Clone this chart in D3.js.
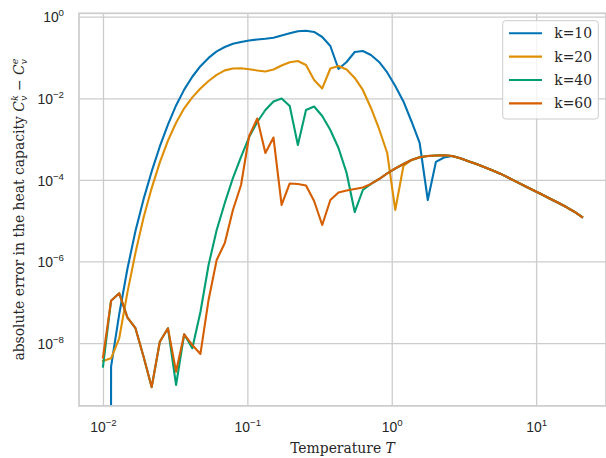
<!DOCTYPE html>
<html>
<head>
<meta charset="utf-8">
<script src="https://cdn.jsdelivr.net/npm/d3@7"></script>
<style>
    body { margin: 0; background: #fff; }
    svg { font-family: "DejaVu Serif", serif; }
    .grid-line { stroke: #cccccc; stroke-width: 1.3; }
    .tick text { fill: #262626; font-size: 13.9px; }
</style>
</head>
<body>
<svg></svg>
<script>
// temperatures (log grid) shared by all curves
const temperature = [0.01, 0.01138, 0.01296, 0.01475, 0.01679, 0.01911, 0.02175, 0.02476, 0.02819, 0.03208,
    0.03652, 0.04157, 0.04732, 0.05387, 0.06131, 0.06979, 0.07944, 0.09043, 0.1029, 0.1171,
    0.1333, 0.1517, 0.1727, 0.1966, 0.2238, 0.2548, 0.29, 0.3301, 0.3757, 0.4277,
    0.4869, 0.5542, 0.6308, 0.7181, 0.8174, 0.9304, 1.058, 1.205, 1.371, 1.561,
    1.777, 2.022, 2.302, 2.620, 2.983, 3.395, 3.865, 4.399, 5.008, 5.700,
    6.486, 7.384, 8.405, 9.566, 10.89, 12.40, 14.11, 16.06, 18.28, 20.81];

// absolute error |C_v^k - C_v^e| for each k
const errK10 = [0, 2.64e-9, 5.1e-8, 6.47e-7, 5.6e-6, 3.37e-5, 1.61e-4, 6.59e-4, 2.26e-3, 6.67e-3,
    1.63e-2, 3.37e-2, 6.12e-2, 9.77e-2, 1.41e-1, 1.81e-1, 2.17e-1, 2.4e-1, 2.61e-1, 2.76e-1,
    2.89e-1, 3.06e-1, 3.46e-1, 3.92e-1, 4.39e-1, 4.54e-1, 4.22e-1, 3.18e-1, 1.91e-1, 5.22e-2,
    7.76e-2, 1.36e-1, 1.44e-1, 1.15e-1, 7.76e-2, 4.29e-2, 2.0e-2, 8.36e-3, 2.7e-3, 8.02e-4,
    3.21e-5, 2.75e-4, 3.54e-4, 3.85e-4, 3.38e-4, 2.86e-4, 2.45e-4, 2.04e-4, 1.7e-4, 1.4e-4,
    1.11e-4, 8.79e-5, 6.97e-5, 5.56e-5, 4.44e-5, 3.5e-5, 2.79e-5, 2.19e-5, 1.68e-5, 1.23e-5];

const errK20 = [3.64e-9, 4.24e-9, 1.31e-8, 1.7e-7, 1.63e-6, 1.19e-5, 6.3e-5, 2.69e-4, 9.18e-4, 2.52e-3,
    5.69e-3, 1.05e-2, 1.74e-2, 2.65e-2, 3.75e-2, 4.83e-2, 5.37e-2, 5.43e-2, 5.16e-2, 4.8e-2,
    4.54e-2, 5.08e-2, 6.37e-2, 7.62e-2, 8.2e-2, 6.55e-2, 2.81e-2, 1.74e-2, 5.37e-2, 6.19e-2,
    5.08e-2, 3.15e-2, 1.6e-2, 5.78e-3, 1.77e-3, 4.56e-4, 1.83e-5, 2.19e-4, 3.08e-4, 3.58e-4,
    3.85e-4, 3.96e-4, 4.01e-4, 3.85e-4, 3.38e-4, 2.86e-4, 2.45e-4, 2.04e-4, 1.7e-4, 1.4e-4,
    1.11e-4, 8.79e-5, 6.97e-5, 5.56e-5, 4.44e-5, 3.5e-5, 2.79e-5, 2.19e-5, 1.68e-5, 1.23e-5];

const errK40 = [2.64e-9, 1.09e-7, 1.66e-7, 4.29e-8, 2.31e-8, 4.64e-9, 8.3e-10, 1.08e-8, 2.31e-8, 9.4e-10,
    1.64e-8, 7.46e-9, 5.78e-8, 8.2e-7, 5.92e-6, 2.72e-5, 1.11e-4, 3.64e-4, 1.12e-3, 2.62e-3,
    5.16e-3, 8.36e-3, 9.89e-3, 6.47e-3, 7.16e-4, 5.16e-3, 6.3e-3, 3.68e-3, 1.67e-3, 6.05e-4,
    1.48e-4, 1.63e-5, 5.65e-5, 7.94e-5, 1.05e-4, 1.44e-4, 1.9e-4, 2.45e-4, 3.08e-4, 3.58e-4,
    3.85e-4, 3.96e-4, 4.01e-4, 3.85e-4, 3.38e-4, 2.86e-4, 2.45e-4, 2.04e-4, 1.7e-4, 1.4e-4,
    1.11e-4, 8.79e-5, 6.97e-5, 5.56e-5, 4.44e-5, 3.5e-5, 2.79e-5, 2.19e-5, 1.68e-5, 1.23e-5];

const errK60 = [4.4e-9, 1.09e-7, 1.66e-7, 4.29e-8, 2.31e-8, 4.64e-9, 8.3e-10, 1.08e-8, 2.31e-8, 1.99e-9,
    1.64e-8, 8.97e-9, 5.41e-9, 1.14e-7, 1.09e-6, 2.84e-6, 1.83e-5, 7.5e-5, 1.19e-3, 3.2e-3,
    4.56e-4, 1.09e-3, 2.43e-5, 8.17e-5, 7.94e-5, 7.3e-5, 3.04e-5, 7.85e-6, 3.21e-5, 4.91e-5,
    5.5e-5, 5.98e-5, 6.52e-5, 7.94e-5, 1.05e-4, 1.44e-4, 1.9e-4, 2.45e-4, 3.08e-4, 3.58e-4,
    3.85e-4, 3.96e-4, 4.01e-4, 3.85e-4, 3.38e-4, 2.86e-4, 2.45e-4, 2.04e-4, 1.7e-4, 1.4e-4,
    1.11e-4, 8.79e-5, 6.97e-5, 5.56e-5, 4.44e-5, 3.5e-5, 2.79e-5, 2.19e-5, 1.68e-5, 1.23e-5];

const seriesLabels = ['k=10', 'k=20', 'k=40', 'k=60'];
const seriesValues = [errK10, errK20, errK40, errK60];
const seriesColors = ['#0173b2', '#de8f05', '#029e73', '#d55e00'];

const xTicks = [1e-2, 1e-1, 1, 10];
const yTicks = [1, 1e-2, 1e-4, 1e-6, 1e-8];

drawGraph();

// "10" with the exponent as superscript
function powerLabel(selection) {
    selection.each(function (d) {
        const text = d3.select(this).text('');
        const p = Math.round(Math.log10(d));
        text.append('tspan').text('10');
        text.append('tspan')
            .attr('dy', -6)
            .style('font-size', '9.7px')
            .text(p < 0 ? '\u2212' + (-p) : String(p));
    });
}

function drawGraph() {
    const width = 606;
    const height = 458;
    const left = 79;
    const right = 606;
    const top = 13.3;
    const bottom = 405.9;

    const svg = d3.select('svg')
        .attr('width', width)
        .attr('height', height);

    svg.selectAll('*').remove();

    const scaleX = d3.scaleLog()
        .domain([Math.pow(10, -2.166), Math.pow(10, 1.484)])
        .range([left, right]);
    const scaleY = d3.scaleLog()
        .domain([Math.pow(10, -9.54), Math.pow(10, 0.083)])
        .range([bottom, top]);

    // axes without tick marks
    const axisX = d3.axisBottom(scaleX).tickValues(xTicks).tickSize(0);
    const axisY = d3.axisLeft(scaleY).tickValues(yTicks).tickSize(0);

    const gx = svg.append('g')
        .attr('class', 'x-axis')
        .attr('transform', `translate(0, ${bottom})`)
        .call(axisX);
    gx.select('.domain').remove();
    gx.selectAll('text')
        .attr('y', 26.3)
        .attr('dy', 0)
        .call(powerLabel);

    const gy = svg.append('g')
        .attr('class', 'y-axis')
        .attr('transform', `translate(${left}, 0)`)
        .call(axisY);
    gy.select('.domain').remove();
    gy.selectAll('text')
        .attr('x', -15)
        .attr('dy', 5.3)
        .call(powerLabel);

    // grid
    gx.selectAll('g.tick')
        .append('line')
        .classed('grid-line', true)
        .attr('y1', 0)
        .attr('y2', top - bottom);

    gy.selectAll('g.tick')
        .append('line')
        .classed('grid-line', true)
        .attr('x1', 0)
        .attr('x2', right - left);

    svg.append('clipPath')
        .attr('id', 'plot-area')
        .append('rect')
        .attr('x', left)
        .attr('y', top)
        .attr('width', right - left)
        .attr('height', bottom - top);

    // curves; zero error is pushed far below the axis like a log clip
    const line = d3.line()
        .x(d => scaleX(d.t))
        .y(d => d.v > 0 ? scaleY(d.v) : scaleY(1e-300));

    seriesValues.forEach((values, k) => {
        const points = temperature.map((t, i) => ({ t: t, v: values[i] }));
        svg.append('path')
            .datum(points)
            .attr('clip-path', 'url(#plot-area)')
            .attr('fill', 'none')
            .attr('stroke', seriesColors[k])
            .attr('stroke-width', 2.1)
            .attr('stroke-linejoin', 'round')
            .attr('stroke-linecap', 'square')
            .attr('d', line);
    });

    // spines
    svg.append('rect')
        .attr('x', left)
        .attr('y', top)
        .attr('width', right - left)
        .attr('height', bottom - top)
        .attr('fill', 'none')
        .attr('stroke', '#cccccc')
        .attr('stroke-width', 1.7);

    // axis labels
    svg.append('text')
        .attr('x', (left + right) / 2)
        .attr('y', 452.5)
        .attr('text-anchor', 'middle')
        .style('font-size', '13.9px')
        .style('fill', '#262626')
        .call(t => {
            t.append('tspan').text('Temperature ');
            t.append('tspan').style('font-style', 'italic').text('T');
        });

    const yLabel = svg.append('text')
        .attr('transform', `translate(23.5, ${(top + bottom) / 2}) rotate(-90)`)
        .attr('text-anchor', 'middle')
        .style('font-size', '13.9px')
        .style('fill', '#262626');
    yLabel.append('tspan').text('absolute error in the heat capacity ');
    yLabel.append('tspan').style('font-style', 'italic').text('C');
    yLabel.append('tspan').style('font-style', 'italic').style('font-size', '9.7px').attr('dy', -6).text('k');
    yLabel.append('tspan').style('font-style', 'italic').style('font-size', '9.7px').attr('dx', -5.8).attr('dy', 9).text('v');
    yLabel.append('tspan').attr('dy', -3).text(' \u2212 ');
    yLabel.append('tspan').style('font-style', 'italic').text('C');
    yLabel.append('tspan').style('font-style', 'italic').style('font-size', '9.7px').attr('dy', -6).text('e');
    yLabel.append('tspan').style('font-style', 'italic').style('font-size', '9.7px').attr('dx', -5.8).attr('dy', 9).text('v');

    // legend
    const legend = svg.append('g').attr('class', 'legend');
    legend.append('rect')
        .attr('x', 502.7)
        .attr('y', 20.7)
        .attr('width', 95.6)
        .attr('height', 98.3)
        .attr('rx', 3)
        .attr('fill', '#ffffff')
        .attr('fill-opacity', 0.8)
        .attr('stroke', '#cccccc')
        .attr('stroke-width', 1);

    seriesLabels.forEach((label, k) => {
        const y = 33.3 + k * 23.35;
        legend.append('line')
            .attr('x1', 509)
            .attr('x2', 542)
            .attr('y1', y)
            .attr('y2', y)
            .attr('stroke', seriesColors[k])
            .attr('stroke-width', 2.1);
        legend.append('text')
            .attr('x', 554.3)
            .attr('y', y + 4.9)
            .style('font-size', '13.9px')
            .style('fill', '#262626')
            .text(label);
    });
}
</script>
</body>
</html>
